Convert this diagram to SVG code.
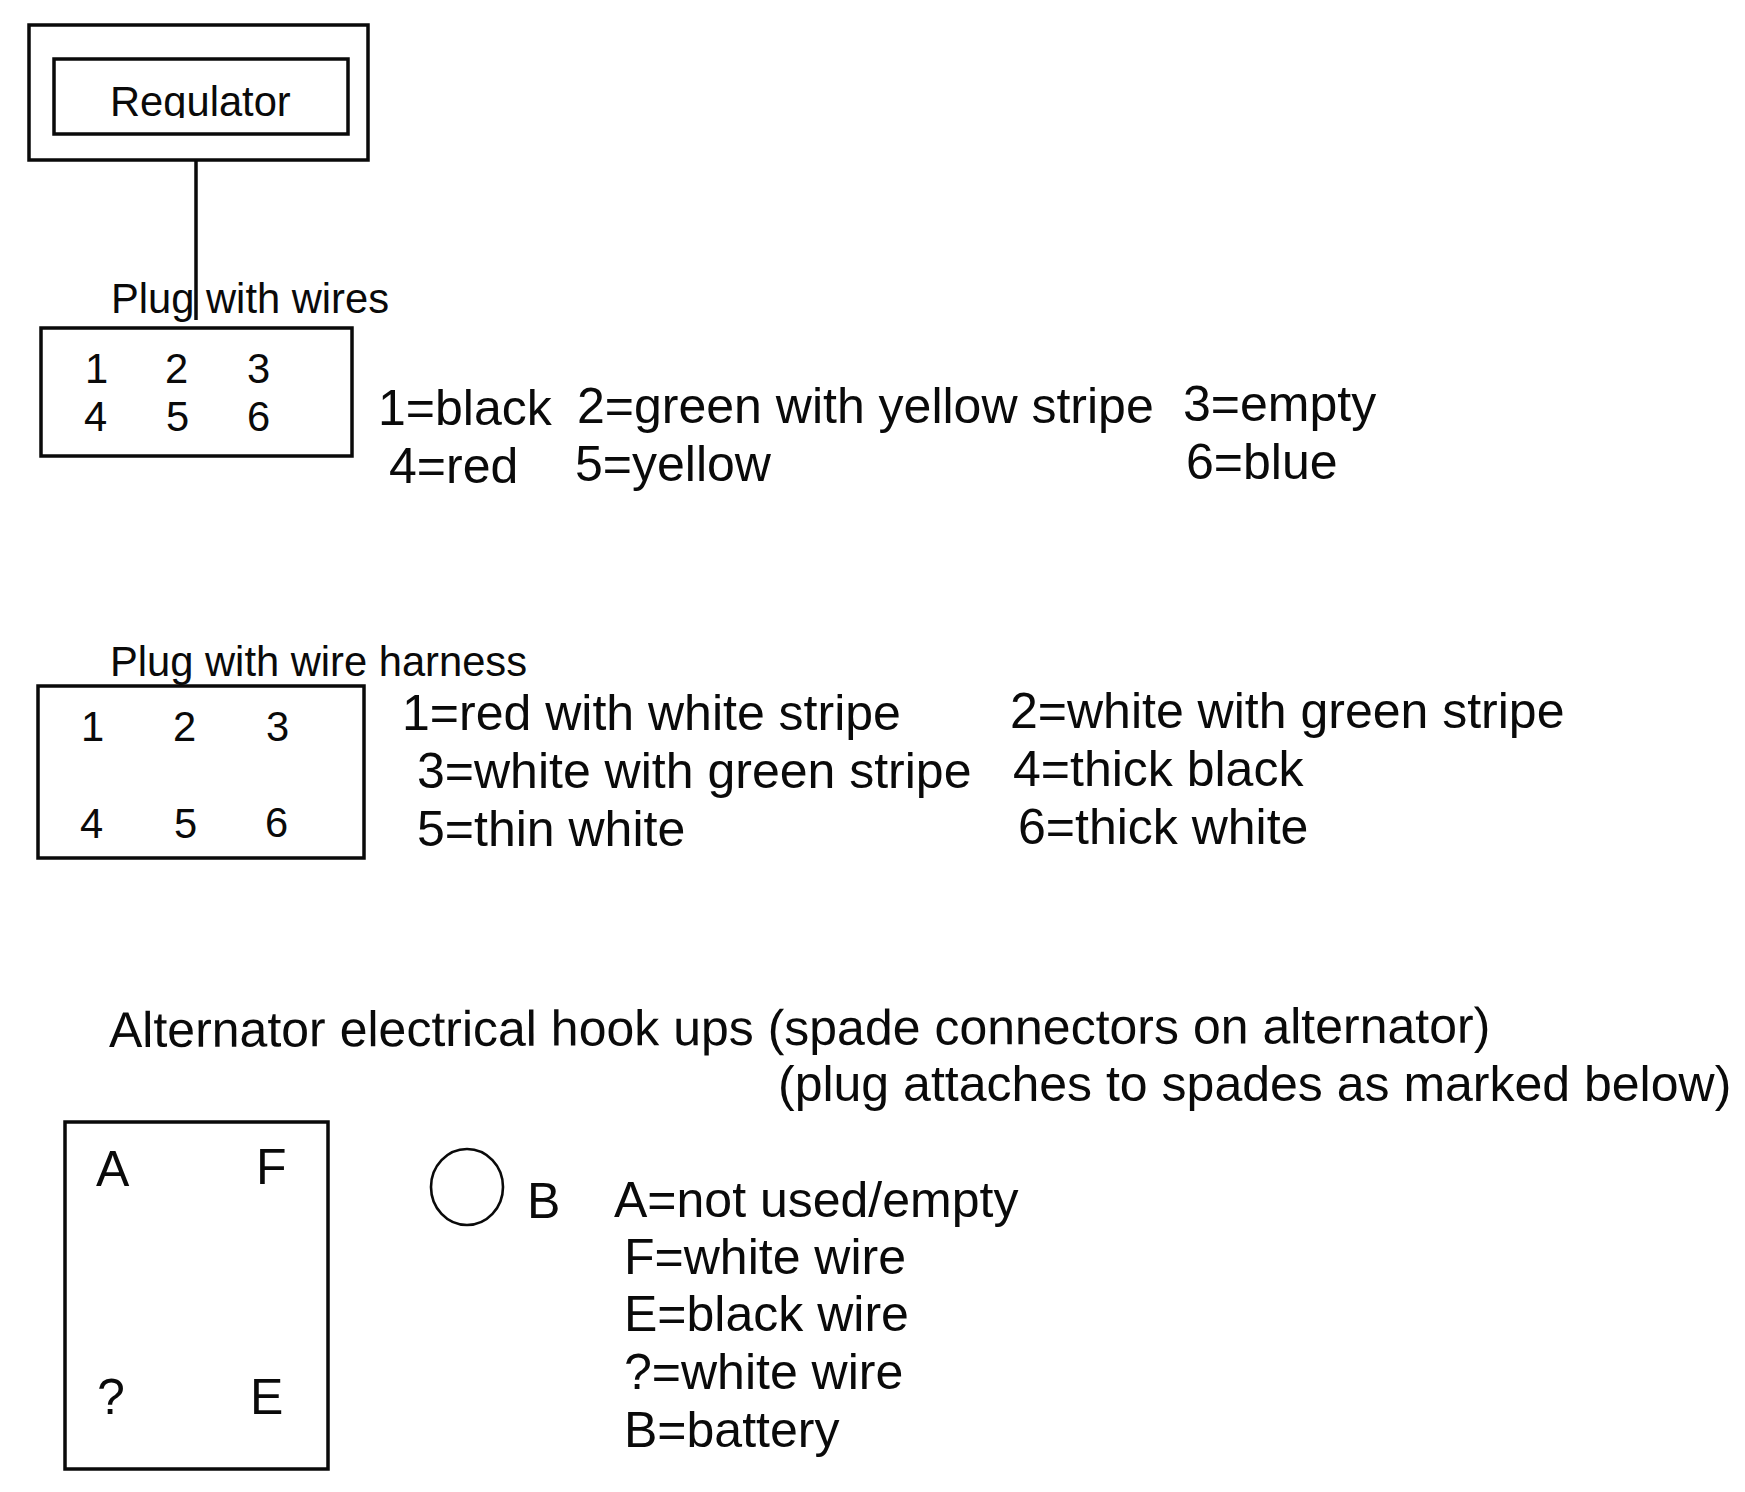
<svg xmlns="http://www.w3.org/2000/svg" width="1745" height="1492" viewBox="0 0 1745 1492">
<style>
text{font-family:"Liberation Sans",Arial,sans-serif;fill:#0a0a0a}
.b{fill:none;stroke:#0a0a0a;stroke-width:3.5}
.m{font-size:41.7px}
.l{font-size:50px}
</style>
<defs><clipPath id="cut"><rect x="100" y="70" width="200" height="48"/></clipPath></defs>
<rect width="1745" height="1492" fill="#fff"/>
<g id="connectors"><line class="b" x1="196" y1="161" x2="196" y2="320"/></g>
<g id="regulator"><rect class="b" x="29" y="25" width="339" height="135"/><rect class="b" x="54" y="59" width="294" height="75"/><text class="m" x="110" y="116" clip-path="url(#cut)">Regulator</text></g>
<g id="plug-wires"><text class="m" x="111" y="313">Plug with wires</text><rect class="b" x="41" y="328" width="311" height="128"/>
<text class="m" x="85" y="383">1</text><text class="m" x="165" y="383">2</text><text class="m" x="247" y="383">3</text><text class="m" x="84" y="431">4</text><text class="m" x="166" y="431">5</text><text class="m" x="247" y="431">6</text></g>
<g id="legend-wires" class="l"><text x="378" y="425">1=black</text><text x="577" y="423">2=green with yellow stripe</text><text x="1183" y="421">3=empty</text><text x="389" y="483">4=red</text><text x="575" y="481">5=yellow</text><text x="1186" y="479">6=blue</text></g>
<g id="plug-harness"><text class="m" x="110" y="676">Plug with wire harness</text><rect class="b" x="38" y="686" width="326" height="172"/>
<text class="m" x="81" y="741">1</text><text class="m" x="173" y="741">2</text><text class="m" x="266" y="741">3</text><text class="m" x="80" y="838">4</text><text class="m" x="174" y="838">5</text><text class="m" x="265" y="837">6</text></g>
<g id="legend-harness" class="l"><text x="402" y="730">1=red with white stripe</text><text x="1010" y="728">2=white with green stripe</text><text x="417" y="788">3=white with green stripe</text><text x="1013" y="786">4=thick black</text><text x="417" y="846">5=thin white</text><text x="1018" y="844">6=thick white</text></g>
<g id="alternator-title" class="l"><text x="109" y="1047" transform="rotate(-0.18 109 1047)">Alternator electrical hook ups (spade connectors on alternator)</text><text x="778" y="1101">(plug attaches to spades as marked below)</text></g>
<g id="alternator"><rect class="b" x="65" y="1122" width="263" height="347"/><text class="l" x="96" y="1186">A</text><text class="l" x="256" y="1184">F</text><text class="l" x="97" y="1414">?</text><text class="l" x="250" y="1414">E</text></g>
<g id="battery"><ellipse cx="467" cy="1187" rx="36" ry="38" fill="none" stroke="#0a0a0a" stroke-width="2.6"/><text class="l" x="527" y="1218">B</text></g>
<g id="legend-alt" class="l"><text x="614" y="1217">A=not used/empty</text><text x="624" y="1274">F=white wire</text><text x="624" y="1331">E=black wire</text><text x="624" y="1389">?=white wire</text><text x="624" y="1447">B=battery</text></g>
</svg>
